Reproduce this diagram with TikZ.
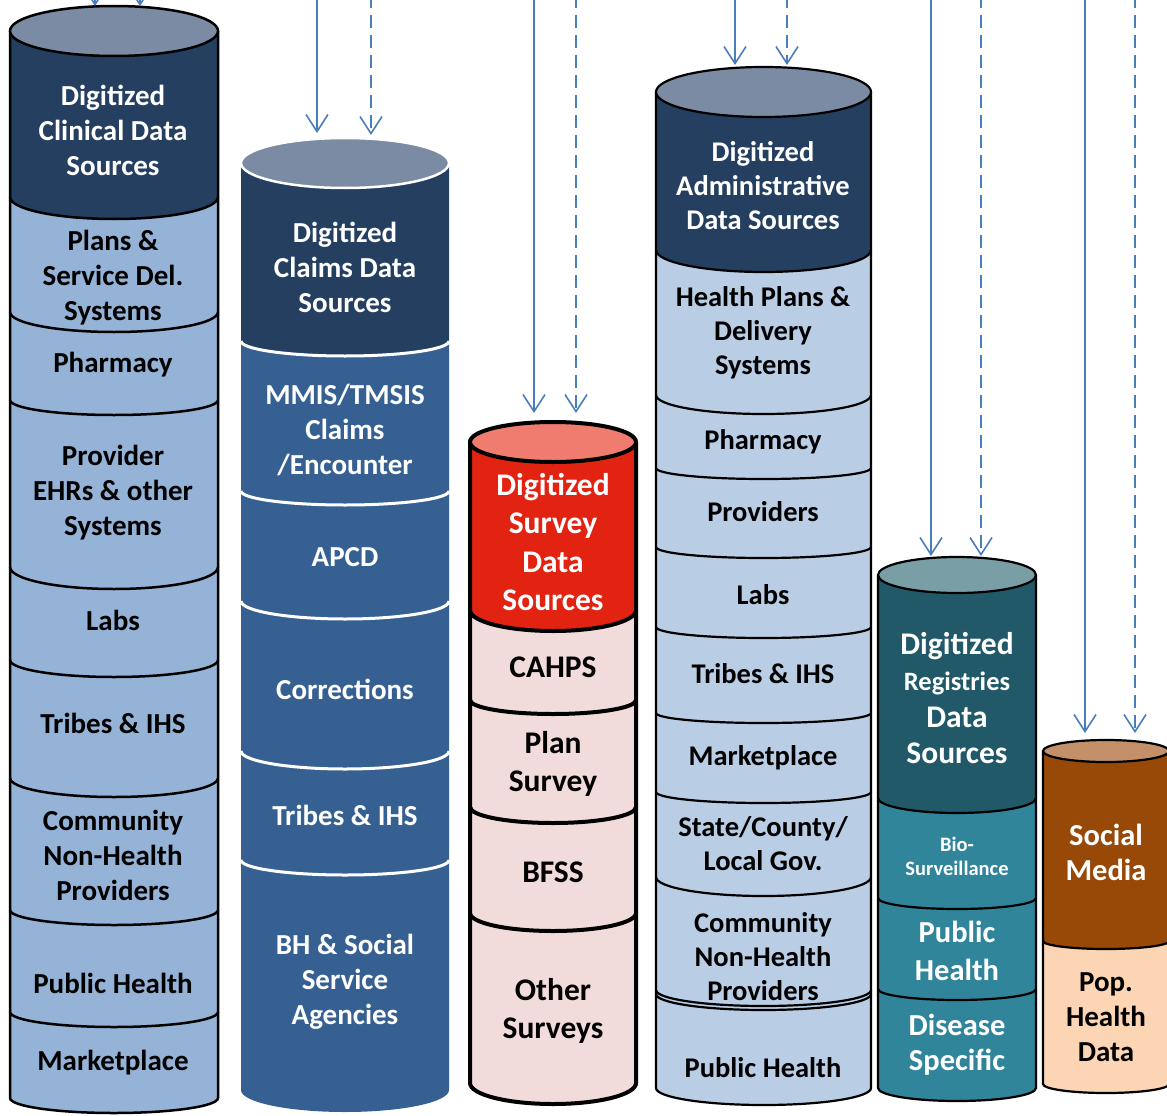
\documentclass[tikz,border=0pt]{standalone}
\usepackage{fontspec}
\setmainfont{Carlito}
\usetikzlibrary{arrows.meta}
\definecolor{cTopGrey}{RGB}{122,139,163}
\definecolor{cNavy}{RGB}{37,63,96}
\definecolor{cLightA}{RGB}{149,179,215}
\definecolor{cMed}{RGB}{54,96,146}
\definecolor{cLightB}{RGB}{185,205,229}
\definecolor{cSurTop}{RGB}{240,124,112}
\definecolor{cSurRed}{RGB}{227,35,18}
\definecolor{cPink}{RGB}{242,220,219}
\definecolor{cRegTop}{RGB}{122,158,166}
\definecolor{cRegDark}{RGB}{33,89,104}
\definecolor{cRegTeal}{RGB}{49,133,155}
\definecolor{cSocTop}{RGB}{196,144,106}
\definecolor{cSocBrown}{RGB}{152,72,7}
\definecolor{cPeach}{RGB}{252,213,181}
\definecolor{cArrow}{RGB}{74,126,187}
% half ellipse (front/bottom) from (xl,y) to (xr,y): args xl xr y ry
\newcommand\botarc[4]{.. controls ({#1},{#3+0.5523*#4}) and ({(#1+#2)/2-0.5523*(#2-#1)/2},{#3+#4}) .. ({(#1+#2)/2},{#3+#4}) .. controls ({(#1+#2)/2+0.5523*(#2-#1)/2},{#3+#4}) and ({#2},{#3+0.5523*#4}) .. ({#2},{#3})}
\newcommand\botarcrev[4]{.. controls ({#2},{#3+0.5523*#4}) and ({(#1+#2)/2+0.5523*(#2-#1)/2},{#3+#4}) .. ({(#1+#2)/2},{#3+#4}) .. controls ({(#1+#2)/2-0.5523*(#2-#1)/2},{#3+#4}) and ({#1},{#3+0.5523*#4}) .. ({#1},{#3})}
% segment: fill xl xr ya rya yb ryb
\newcommand\seg[7]{\fill[#1] ({#2},{#4}) -- ({#2},{#6}) \botarc{#2}{#3}{#6}{#7} -- ({#3},{#4}) \botarcrev{#2}{#3}{#4}{#5} -- cycle;}
% boundary arc: style xl xr y ry
\newcommand\barc[5]{\draw[#1] ({#2},{#4}) \botarc{#2}{#3}{#4}{#5};}
% outline: style xl xr ytop ybot rybot
\newcommand\outl[6]{\draw[#1] ({#2},{#4}) -- ({#2},{#5}) \botarc{#2}{#3}{#5}{#6} -- ({#3},{#4});}
% top ellipse: style xl xr y ry
\newcommand\topell[5]{\draw[#1] ({(#2+#3)/2},{#4}) ellipse [x radius={(#3-#2)/2}, y radius={#5}];}
\begin{document}
\begin{tikzpicture}[x=1pt,y=-1pt,
  lbl/.style={align=center, inner sep=0pt, yshift=-2pt, font=\bfseries\fontsize{29}{35}\selectfont},
  big/.style={font=\bfseries\fontsize{31.5}{38.5}\selectfont},
  mid/.style={font=\bfseries\fontsize{28.5}{34}\selectfont},
  wt/.style={text=white},
  arr/.style={draw=cArrow, line width=1.6pt, -{Straight Barb[length=17pt,width=22pt]}},
  arrd/.style={arr, dash pattern=on 13pt off 7pt}]
\useasboundingbox (0,0) rectangle (1167,1116);
\clip (0,0) rectangle (1167,1116);

% ---------- Column 1: Clinical ----------
\seg{cNavy}{10}{218}{31}{25}{197}{22}
\seg{cLightA}{10}{218}{197}{22}{312}{20}
\seg{cLightA}{10}{218}{312}{20}{400}{15}
\seg{cLightA}{10}{218}{400}{15}{567}{22}
\seg{cLightA}{10}{218}{567}{22}{660}{17}
\seg{cLightA}{10}{218}{660}{17}{778}{19}
\seg{cLightA}{10}{218}{778}{19}{910}{15}
\seg{cLightA}{10}{218}{910}{15}{1012}{15}
\seg{cLightA}{10}{218}{1012}{15}{1098}{15}
\foreach \yy/\rr in {197/22,312/20,400/15,567/22,660/17,778/19,910/15,1012/15}{\barc{line width=2.5pt}{10}{218}{\yy}{\rr}}
\outl{line width=2.5pt}{10}{218}{31}{1098}{15}
\topell{fill=cTopGrey,line width=2.5pt}{10}{218}{31}{25}

% ---------- Column 2: Claims ----------
\seg{cNavy}{241}{449}{163}{25}{341}{15}
\seg{cMed}{241}{449}{341}{15}{491}{14}
\seg{cMed}{241}{449}{491}{14}{601}{18}
\seg{cMed}{241}{449}{601}{18}{751}{18}
\seg{cMed}{241}{449}{751}{18}{860}{15}
\seg{cMed}{241}{449}{860}{15}{1090}{22}
\foreach \yy/\rr in {341/15,491/14,601/18,751/18,860/15}{\barc{white,line width=3pt}{241}{449}{\yy}{\rr}}
\topell{fill=cTopGrey,draw=white,line width=2.5pt}{241}{449}{163}{25}

% ---------- Column 3: Survey ----------
\seg{cSurRed}{470}{636}{442}{20}{610}{21}
\seg{cPink}{470}{636}{610}{21}{700}{14}
\seg{cPink}{470}{636}{700}{14}{807}{16}
\seg{cPink}{470}{636}{807}{16}{913}{18}
\seg{cPink}{470}{636}{913}{18}{1083}{21}
\foreach \yy/\rr in {610/21,700/14,807/16,913/18}{\barc{line width=4pt}{470}{636}{\yy}{\rr}}
\outl{line width=4pt}{470}{636}{442}{1083}{21}
\topell{fill=cSurTop,line width=4pt}{470}{636}{442}{20}

% ---------- Column 4: Administrative ----------
\seg{cNavy}{656}{871}{92}{25}{250}{22}
\seg{cLightB}{656}{871}{250}{22}{395}{19}
\seg{cLightB}{656}{871}{395}{19}{468}{11}
\seg{cLightB}{656}{871}{468}{11}{547}{11}
\seg{cLightB}{656}{871}{547}{11}{627}{11}
\seg{cLightB}{656}{871}{627}{11}{713}{10}
\seg{cLightB}{656}{871}{713}{10}{792}{11}
\seg{cLightB}{656}{871}{792}{11}{877}{19}
\seg{cLightB}{656}{871}{877}{19}{990}{16}
\seg{cLightB}{656}{871}{990}{16}{1088}{17}
\foreach \yy/\rr in {250/22,395/19,468/11,547/11,627/11,713/10,792/11,877/19,990/16,994/16}{\barc{line width=2.2pt}{656}{871}{\yy}{\rr}}
\outl{line width=2.2pt}{656}{871}{92}{1088}{17}
\topell{fill=cTopGrey,line width=2.2pt}{656}{871}{92}{25}

% ---------- Column 5: Registries ----------
\seg{cRegDark}{878}{1036}{575}{18}{798}{15}
\seg{cRegTeal}{878}{1036}{798}{15}{898}{11}
\seg{cRegTeal}{878}{1036}{898}{11}{989}{11}
\seg{cRegTeal}{878}{1036}{989}{11}{1088}{13}
\foreach \yy/\rr in {798/15,898/11,989/11}{\barc{line width=2.2pt}{878}{1036}{\yy}{\rr}}
\outl{line width=2.2pt}{878}{1036}{575}{1088}{13}
\topell{fill=cRegTop,line width=2.2pt}{878}{1036}{575}{18}

% ---------- Column 6: Social media ----------
\seg{cSocBrown}{1043}{1169}{751}{11}{941}{8}
\seg{cPeach}{1043}{1169}{941}{8}{1084}{9}
\barc{line width=2.2pt}{1043}{1169}{941}{8}
\outl{line width=2.2pt}{1043}{1169}{751}{1084}{9}
\topell{fill=cSocTop,line width=2.2pt}{1043}{1169}{751}{11}

% ---------- Labels ----------
\node[lbl,wt] (c1h) at (113,128) {Digitized\\Clinical Data\\Sources};
\node[lbl] (c1a) at (113,276) {Plans \&\\Service Del.\\Systems};
\node[lbl] (c1b) at (113,363) {Pharmacy};
\node[lbl] (c1c) at (113,491) {Provider\\EHRs \& other\\Systems};
\node[lbl] (c1d) at (113,618) {Labs};
\node[lbl] (c1e) at (113,721) {Tribes \& IHS};
\node[lbl] (c1f) at (113,853) {Community\\Non-Health\\Providers};
\node[lbl] (c1g) at (113,981) {Public Health};
\node[lbl] (c1i) at (113,1061) {Marketplace};

\node[lbl,wt] (c2h) at (345,265) {Digitized\\Claims Data\\Sources};
\node[lbl,wt] (c2a) at (345,428) {MMIS/TMSIS\\Claims\\/Encounter};
\node[lbl,wt] (c2b) at (345,555) {APCD};
\node[lbl,wt] (c2c) at (345,687) {Corrections};
\node[lbl,wt] (c2d) at (345,813) {Tribes \& IHS};
\node[lbl,wt] (c2e) at (345,980) {BH \& Social\\Service\\Agencies};

\node[lbl,big,wt] (c3h) at (553,540) {Digitized\\Survey\\Data\\Sources};
\node[lbl,big] (c3a) at (553,665) {CAHPS};
\node[lbl,big] (c3b) at (553,762) {Plan\\Survey};
\node[lbl,big] (c3c) at (553,870) {BFSS};
\node[lbl,big] (c3d) at (553,1009) {Other\\Surveys};

\node[lbl,mid,wt] (c4h) at (763,184) {Digitized\\Administrative\\Data Sources};
\node[lbl,mid] (c4a) at (763,331) {Health Plans \&\\Delivery\\Systems};
\node[lbl,mid] (c4b) at (763,440) {Pharmacy};
\node[lbl,mid] (c4c) at (763,510) {Providers};
\node[lbl,mid] (c4d) at (763,593) {Labs};
\node[lbl,mid] (c4e) at (763,672) {Tribes \& IHS};
\node[lbl,mid] (c4f) at (763,756) {Marketplace};
\node[lbl,mid] (c4g) at (763,842) {State/County/\\Local Gov.};
\node[lbl,mid] (c4i) at (763,955) {Community\\Non-Health\\Providers};
\node[lbl,mid] (c4j) at (763,1066) {Public Health};

\node[lbl,wt,font=\bfseries\fontsize{31.5}{36.5}\selectfont] (c5h) at (957,696) {Digitized\\{\fontsize{26.5}{36.5}\selectfont Registries}\\Data\\Sources};
\node[lbl,wt,font=\bfseries\fontsize{20.5}{24}\selectfont] (c5a) at (957,854) {Bio-\\Surveillance};
\node[lbl,wt,font=\bfseries\fontsize{30.5}{38}\selectfont] (c5b) at (957,949) {Public\\Health};
\node[lbl,wt,font=\bfseries\fontsize{30.5}{35}\selectfont] (c5c) at (957,1043) {Disease\\Specific};

\node[lbl,wt,font=\bfseries\fontsize{30.5}{35}\selectfont] (c6h) at (1106,850) {Social\\Media};
\node[lbl] (c6a) at (1106,1015) {Pop.\\Health\\Data};

% ---------- Arrows ----------
\coordinate (s1a) at (95,-40);  \coordinate (e1a) at (95,6);
\coordinate (s1b) at (140,-40); \coordinate (e1b) at (140,6);
\coordinate (s2a) at (317,-5);  \coordinate (e2a) at (317,133);
\coordinate (s2b) at (371,-5);  \coordinate (e2b) at (371,135);
\coordinate (s3a) at (534,-5);  \coordinate (e3a) at (534,413);
\coordinate (s3b) at (576,-5);  \coordinate (e3b) at (576,413);
\coordinate (s4a) at (735,-5);  \coordinate (e4a) at (735,65);
\coordinate (s4b) at (787,-5);  \coordinate (e4b) at (787,65);
\coordinate (s5a) at (931,-5);  \coordinate (e5a) at (931,556);
\coordinate (s5b) at (981,-5);  \coordinate (e5b) at (981,556);
\coordinate (s6a) at (1085,-5); \coordinate (e6a) at (1085,733);
\coordinate (s6b) at (1135,-5); \coordinate (e6b) at (1135,733);
\foreach \i in {1,...,6}{
  \draw[arr] (s\i a) -- (e\i a);
  \draw[arrd] (s\i b) -- (e\i b);
}
\end{tikzpicture}
\end{document}
